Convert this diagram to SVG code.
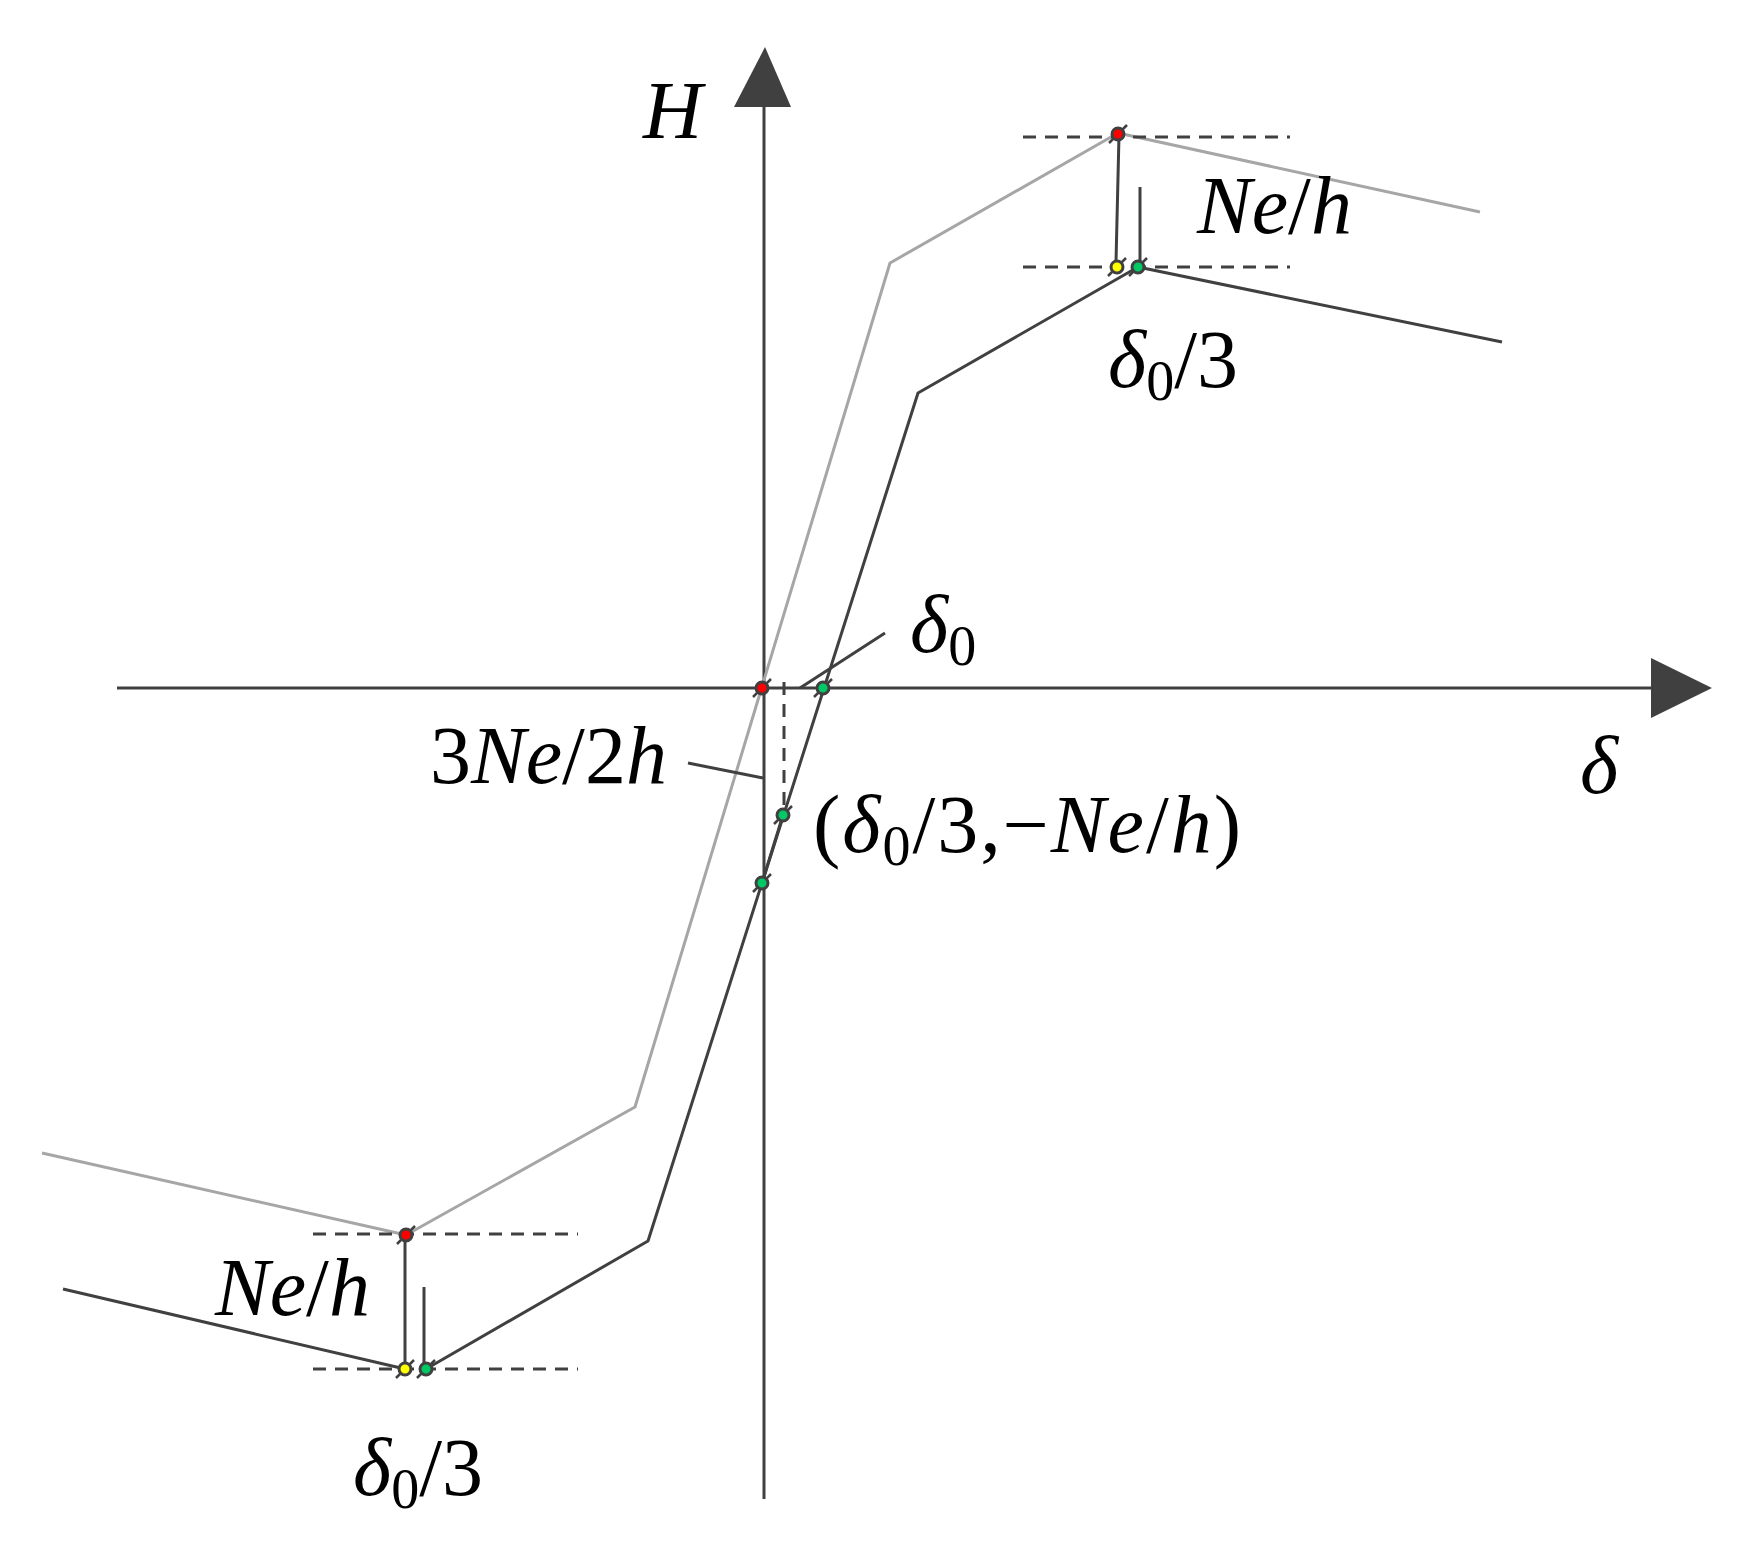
<svg xmlns="http://www.w3.org/2000/svg" width="1748" height="1564" viewBox="0 0 1748 1564">
<style>
.ax{stroke:#404040;stroke-width:3;fill:none}
.dk{stroke:#404040;stroke-width:3;fill:none;stroke-linejoin:round}
.gr{stroke:#a6a6a6;stroke-width:3;fill:none;stroke-linejoin:round}
.ds{stroke:#404040;stroke-width:3;fill:none;stroke-dasharray:13 9}
.tk{stroke:#404040;stroke-width:2.5}
.pt{stroke:#404040;stroke-width:3}
.red{fill:#ff0000}.yel{fill:#ffff00}.grn{fill:#00c864}
text{font-family:"Liberation Serif","Times New Roman",serif;font-size:82px;fill:#000}
.i{font-style:italic}
.s{font-size:56px}
</style>
<rect width="1748" height="1564" fill="#fff"/>
<g id="axes">
<line class="ax" x1="117" y1="688" x2="1655" y2="688"/>
<polygon points="1651,658 1712,688 1651,718" fill="#404040"/>
<line class="ax" x1="764" y1="104" x2="764" y2="1499"/>
<polygon points="734,107 765,47 791,107" fill="#404040"/>
</g>
<g id="connectors">
<polyline class="gr" points="42,1153 406,1235 635,1107 890,263 1118,133 1480,212"/>
<polyline class="dk" points="63,1289 405,1369"/>
<polyline class="dk" points="426,1369 648,1241 918,393 1138,267 1502,342"/>
<line class="dk" x1="783" y1="815" x2="762" y2="883" stroke-width="5.5"/>
<line class="ds" x1="1023" y1="137" x2="1290" y2="137"/>
<line class="ds" x1="1023" y1="267" x2="1290" y2="267"/>
<line class="ds" x1="313" y1="1234" x2="578" y2="1234"/>
<line class="ds" x1="313" y1="1369" x2="578" y2="1369"/>
<line class="ds" x1="784" y1="682" x2="784" y2="806"/>
<line class="dk" x1="1119" y1="135" x2="1116" y2="262"/>
<line class="dk" x1="1140" y1="187" x2="1140" y2="262"/>
<line class="dk" x1="405" y1="1236" x2="405" y2="1365"/>
<line class="dk" x1="424" y1="1287" x2="424" y2="1364"/>
<line class="dk" x1="800" y1="688" x2="885" y2="633"/>
<line class="dk" x1="688" y1="763" x2="763" y2="778"/>
</g>
<g id="points">
<line class="tk" x1="1109" y1="143" x2="1127" y2="125"/>
<circle class="pt red" cx="1118" cy="134" r="6"/>
<line class="tk" x1="1108" y1="276" x2="1126" y2="258"/>
<circle class="pt yel" cx="1117" cy="267" r="6"/>
<line class="tk" x1="1129" y1="276" x2="1147" y2="258"/>
<circle class="pt grn" cx="1138" cy="267" r="6"/>
<line class="tk" x1="397" y1="1244" x2="415" y2="1226"/>
<circle class="pt red" cx="406" cy="1235" r="6"/>
<line class="tk" x1="396" y1="1378" x2="414" y2="1360"/>
<circle class="pt yel" cx="405" cy="1369" r="6"/>
<line class="tk" x1="417" y1="1378" x2="435" y2="1360"/>
<circle class="pt grn" cx="426" cy="1369" r="6"/>
<line class="tk" x1="753" y1="697" x2="771" y2="679"/>
<circle class="pt red" cx="762" cy="688" r="6"/>
<line class="tk" x1="814" y1="697" x2="832" y2="679"/>
<circle class="pt grn" cx="823" cy="688" r="6"/>
<line class="tk" x1="774" y1="824" x2="792" y2="806"/>
<circle class="pt grn" cx="783" cy="815" r="6"/>
<line class="tk" x1="753" y1="892" x2="771" y2="874"/>
<circle class="pt grn" cx="762" cy="883" r="6"/>
</g>
<g id="labels">
<text x="643" y="138" class="i">H</text>
<text x="1580" y="793" class="i">δ</text>
<text x="1197" y="233"><tspan class="i">Ne</tspan>/<tspan class="i">h</tspan></text>
<text x="1108" y="387"><tspan class="i">δ</tspan><tspan class="s" dy="13">0</tspan><tspan dy="-13">/3</tspan></text>
<text x="910" y="652"><tspan class="i">δ</tspan><tspan class="s" dy="13">0</tspan></text>
<text x="430" y="783">3<tspan class="i">Ne</tspan>/2<tspan class="i">h</tspan></text>
<text x="813" y="852" textLength="428" lengthAdjust="spacing">(<tspan class="i">δ</tspan><tspan class="s" dy="13">0</tspan><tspan dy="-13">/3,−</tspan><tspan class="i">Ne</tspan>/<tspan class="i">h</tspan>)</text>
<text x="215" y="1315"><tspan class="i">Ne</tspan>/<tspan class="i">h</tspan></text>
<text x="353" y="1495"><tspan class="i">δ</tspan><tspan class="s" dy="13">0</tspan><tspan dy="-13">/3</tspan></text>
</g>
</svg>
